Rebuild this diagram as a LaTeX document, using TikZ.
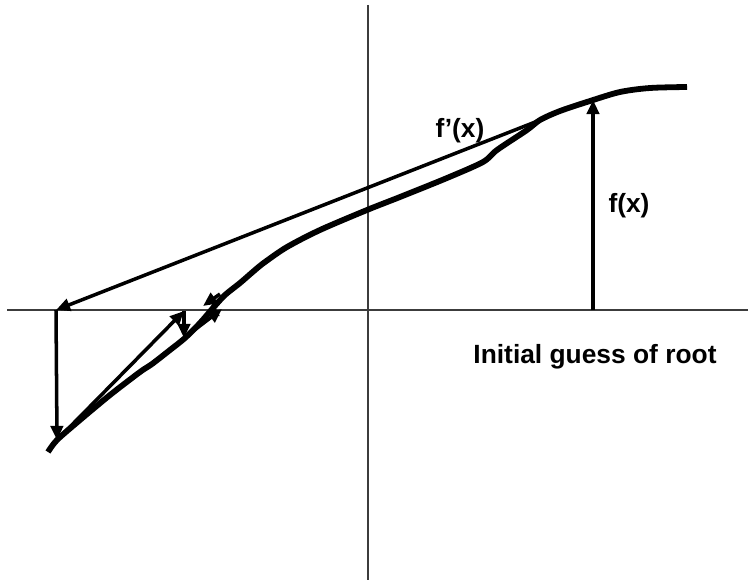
\documentclass[tikz,border=0pt]{standalone}
\usepackage{fontspec}
\setmainfont{Liberation Sans}
\usetikzlibrary{arrows.meta}
\definecolor{Ceixo}{RGB}{60,60,60}

\begin{document}
\begin{tikzpicture}[x=0.02cm, y=-0.02cm,
    seta/.style={-{Triangle[length=8pt,width=7pt]}, line width=2pt},
    rotulo/.style={font=\bfseries\fontsize{15}{18}\selectfont}]
  \useasboundingbox (0,0) rectangle (749,580);
  % eixos
  \draw[Ceixo, line width=0.7pt] (7,310) -- (748,310);
  \draw[Ceixo, line width=0.7pt] (368,5) -- (368,580);
  % curva
  \draw[line width=3.3pt, line join=round] plot[smooth, tension=0.5] coordinates {
    (48,452) (57,440) (80,420) (110,395) (140,372) (152,364) (170,350)
    (185,338) (200,323) (213,308) (225,295) (240,283) (255,270) (265,262)
    (287,247) (320,230) (367,210) (400,197) (447,178) (483,162) (497,150)
    (527,130) (540,120) (560,111) (590,101) (620,92) (650,88) (687,87)};
  % pontos
  \coordinate (x0) at (593,310);
  \coordinate (p0) at (593,100);
  \coordinate (t0) at (548,117);
  \coordinate (x1) at (56,310);
  \coordinate (p1) at (57,440);
  \coordinate (x2) at (184,311);
  \coordinate (p2) at (184,338);
  \coordinate (x3) at (222,309);
  \coordinate (q1) at (213,318);
  \coordinate (q2) at (213,302);
  \coordinate (q3) at (220,294);
  \coordinate (q4) at (203,306);
  % iteracoes
  \draw[seta] (x0) -- (p0);
  \draw[seta] (t0) -- (x1);
  \draw[seta] (x1) -- (p1);
  \draw[seta] (p1) -- (x2);
  \draw[seta] (x2) -- (p2);
  \draw[seta] (p2) -- (x3);
  \draw[seta] (q1) -- (q2);
  \draw[seta] (q3) -- (q4);
  % rotulos
  \node[rotulo] (fx) at (629,206) {f(x)};
  \node[rotulo] (dfx) at (460,131) {f’(x)};
  \node[rotulo] (chute) at (595,357) {Initial guess of root};
\end{tikzpicture}
\end{document}
